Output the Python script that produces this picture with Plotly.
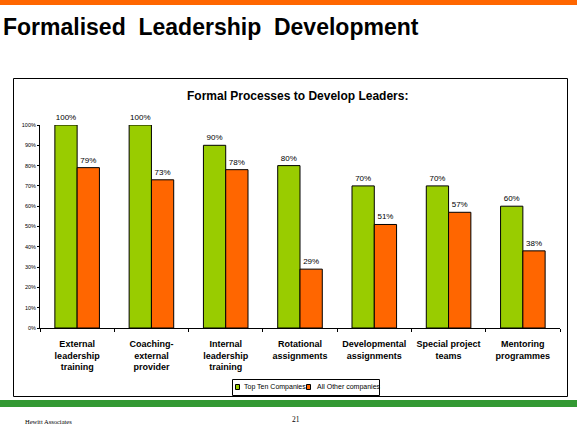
import plotly.graph_objects as go

categories = ["External<br>leadership<br>training", "Coaching-<br>external<br>provider",
              "Internal<br>leadership<br>training", "Rotational<br>assignments",
              "Developmental<br>assignments", "Special project<br>teams",
              "Mentoring<br>programmes"]
top_ten = [100, 100, 90, 80, 70, 70, 60]
all_other = [79, 73, 78, 29, 51, 57, 38]
series_names = ["Top Ten Companies", "All Other companies"]
y_ticks = [0, 10, 20, 30, 40, 50, 60, 70, 80, 90, 100]
y_tick_labels = [f"{v}%" for v in y_ticks]

W, H = 577, 427
ML, MR, MT, MB = 40, 17, 125, 99
PW, PH = W - ML - MR, H - MT - MB


def px(x):
    return (x - ML) / PW


def py(y):
    return (H - MB - y) / PH


GREEN = "#99CC00"
ORANGE = "#FF6600"

fig = go.Figure()
for name, vals, col in [(series_names[0], top_ten, GREEN), (series_names[1], all_other, ORANGE)]:
    fig.add_trace(go.Bar(x=categories, y=vals, name=name,
                         marker=dict(color=col, line=dict(color="black", width=1)),
                         text=[f"{v}%" for v in vals], texttemplate="%{text}",
                         textposition="outside",
                         textfont=dict(family="Arial", size=8, color="black"),
                         cliponaxis=False, constraintext="none", showlegend=False))

shapes = [
    dict(type="rect", xref="paper", yref="paper", x0=px(0), x1=px(W), y0=py(0), y1=py(5),
         fillcolor="#FF6600", line=dict(width=0), layer="below"),
    dict(type="rect", xref="paper", yref="paper", x0=px(0), x1=px(W), y0=py(400), y1=py(407),
         fillcolor="#339933", line=dict(width=0), layer="below"),
    dict(type="rect", xref="paper", yref="paper", x0=px(13.5), x1=px(567.5), y0=py(78.5), y1=py(396.5),
         fillcolor="rgba(0,0,0,0)", line=dict(color="black", width=1), layer="below"),
    # legend box and swatches
    dict(type="rect", xref="paper", yref="paper", x0=px(232.5), x1=px(379.5), y0=py(379.5), y1=py(395.5),
         fillcolor="white", line=dict(color="black", width=1), layer="above"),
    dict(type="rect", xref="paper", yref="paper", x0=px(235.5), x1=px(239.5), y0=py(384.5), y1=py(389.5),
         fillcolor=GREEN, line=dict(color="black", width=1), layer="above"),
    dict(type="rect", xref="paper", yref="paper", x0=px(306.5), x1=px(310.5), y0=py(384.5), y1=py(389.5),
         fillcolor=ORANGE, line=dict(color="black", width=1), layer="above"),
]

annotations = [
    dict(text="<b>Formalised&nbsp; Leadership&nbsp; Development</b>", xref="paper", yref="paper",
         x=px(1), y=py(27), xanchor="left", yanchor="middle", showarrow=False,
         font=dict(family="Arial", size=23, color="black")),
    dict(text="<b>Formal Processes to Develop Leaders:</b>", xref="paper", yref="paper",
         x=px(297), y=py(96), xanchor="center", yanchor="middle", showarrow=False,
         font=dict(family="Arial", size=12, color="black")),
    dict(text=series_names[0], xref="paper", yref="paper",
         x=px(242), y=py(387), xanchor="left", yanchor="middle", showarrow=False,
         font=dict(family="Arial", size=7, color="black")),
    dict(text=series_names[1], xref="paper", yref="paper",
         x=px(315), y=py(387), xanchor="left", yanchor="middle", showarrow=False,
         font=dict(family="Arial", size=7, color="black")),
    dict(text="Hewitt Associates", xref="paper", yref="paper",
         x=px(23), y=py(421), xanchor="left", yanchor="middle", showarrow=False,
         font=dict(family="Liberation Serif", size=6.5, color="black")),
    dict(text="21", xref="paper", yref="paper",
         x=px(296), y=py(419), xanchor="center", yanchor="middle", showarrow=False,
         font=dict(family="Liberation Serif", size=7.5, color="black")),
]

fig.update_layout(
    width=W, height=H, autosize=False,
    margin=dict(l=ML, r=MR, t=MT, b=MB, pad=0),
    paper_bgcolor="white", plot_bgcolor="white",
    barmode="group", bargap=0.4, bargroupgap=0,
    showlegend=False,
    shapes=shapes, annotations=annotations,
    font=dict(family="Arial", color="black"),
)
fig.update_xaxes(showline=True, linecolor="black", linewidth=1, ticks="outside",
                 tickson="boundaries", ticklen=3, tickcolor="black", tickangle=0,
                 tickfont=dict(family="Arial", size=9, color="black", weight="bold"),
                 ticklabelstandoff=7, showgrid=False)
fig.update_yaxes(range=[0, 100], tickvals=y_ticks, ticktext=y_tick_labels, showline=True,
                 linecolor="black", linewidth=1, ticks="outside", ticklen=2,
                 tickcolor="black", tickfont=dict(family="Arial", size=5.5, color="black"),
                 showgrid=False, zeroline=False)

fig.write_html("out.html", config={"displayModeBar": False},
               post_script="document.body.style.margin='0';document.body.style.padding='0';"
                           "document.body.style.overflow='hidden';"
                           "document.documentElement.style.overflow='hidden';")
